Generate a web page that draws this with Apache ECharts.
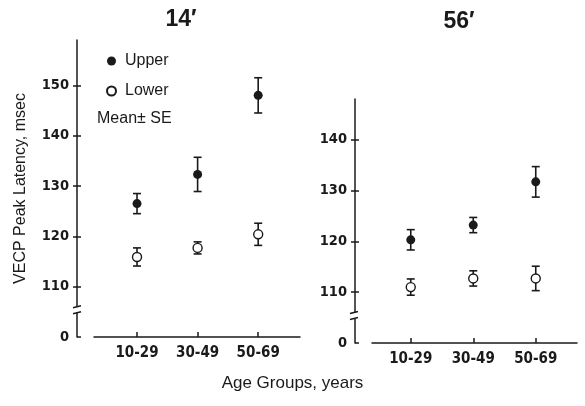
<!DOCTYPE html>
<html>
<head>
<meta charset="utf-8">
<script src="https://cdn.jsdelivr.net/npm/echarts@6/dist/echarts.min.js"></script>
<style>
  html, body { margin: 0; padding: 0; background: #fff; }
  #main { width: 585px; height: 406px; }
</style>
</head>
<body>
<div id="main"></div>
<script>
// age groups on the x axis
var categories = ['10-29', '30-49', '50-69'];
var panelTitles = ['14\u2032', '56\u2032'];

// 14' panel, mean and SE (msec)
var upper14 = [126.5, 132.3, 148.0];
var upper14SE = [2.0, 3.4, 3.5];
var lower14 = [115.9, 117.7, 120.4];
var lower14SE = [1.8, 1.2, 2.2];

// 56' panel
var upper56 = [120.3, 123.2, 131.7];
var upper56SE = [2.0, 1.5, 3.0];
var lower56 = [111.0, 112.7, 112.7];
var lower56SE = [1.6, 1.5, 2.4];

// y tick values; 100 sits below the axis break and is labelled "0"
var yTicks14 = [100, 110, 120, 130, 140, 150];
var yTicks56 = [100, 110, 120, 130, 140];

var ink = '#1a1a1a';
var tickFont = '"Liberation Sans Narrow", "DejaVu Sans Condensed", sans-serif';
var textFont = '"Liberation Sans", Arial, sans-serif';

function points(vals) {
  return vals.map(function (v, i) { return [i, v]; });
}
function bars(vals, se) {
  return vals.map(function (v, i) { return [i, v - se[i], v + se[i]]; });
}

function errorItem(params, api) {
  var lo = api.coord([api.value(0), api.value(1)]);
  var hi = api.coord([api.value(0), api.value(2)]);
  var w = 4;
  var st = { stroke: ink, lineWidth: 1.6 };
  return {
    type: 'group',
    children: [
      { type: 'line', shape: { x1: lo[0], y1: lo[1], x2: hi[0], y2: hi[1] }, style: st },
      { type: 'line', shape: { x1: lo[0] - w, y1: lo[1], x2: lo[0] + w, y2: lo[1] }, style: st },
      { type: 'line', shape: { x1: hi[0] - w, y1: hi[1], x2: hi[0] + w, y2: hi[1] }, style: st }
    ]
  };
}

function xAxisFor(grid, min, max) {
  return {
    type: 'value', gridIndex: grid, min: min, max: max,
    splitLine: { show: false },
    axisLine: { onZero: false, lineStyle: { color: ink, width: 1.5 } },
    axisTick: { inside: true, length: 5, customValues: [0, 1, 2], lineStyle: { color: ink, width: 1.5 } },
    axisLabel: {
      customValues: [0, 1, 2], margin: 9,
      formatter: function (v) { return categories[Math.round(v)]; },
      color: ink, fontFamily: tickFont, fontWeight: 'bold', fontSize: 15
    }
  };
}

function yAxesFor(grid, max, ticks, withName) {
  var outer = {
    type: 'value', gridIndex: grid, position: 'left', offset: 17, min: 100, max: max,
    splitLine: { show: false },
    axisLine: { show: true, onZero: false, lineStyle: { color: ink, width: 1.5 } },
    axisTick: { show: true, length: 4, customValues: ticks.slice(1), lineStyle: { color: ink, width: 1.5 } },
    axisLabel: {
      customValues: ticks, margin: 8,
      formatter: function (v) { return v === 100 ? '0' : String(v); },
      color: ink, fontFamily: tickFont, fontWeight: 'bold', fontSize: 14.5
    }
  };
  if (withName) {
    outer.name = 'VECP Peak Latency, msec';
    outer.nameLocation = 'middle';
    outer.nameGap = 48;
    outer.nameTextStyle = { color: ink, fontFamily: textFont, fontSize: 16 };
  }
  var inner = {
    type: 'value', gridIndex: grid, position: 'left', offset: 17, min: 100, max: max,
    splitLine: { show: false },
    axisLine: { show: false, onZero: false },
    axisLabel: { show: false },
    axisTick: { show: true, inside: true, length: 4, customValues: ticks, lineStyle: { color: ink, width: 1.5 } }
  };
  return [outer, inner];
}

function panelSeries(grid, up, upSE, low, lowSE) {
  var yi = grid * 2;
  return [
    { type: 'custom', name: 'errU' + grid, xAxisIndex: grid, yAxisIndex: yi, renderItem: errorItem,
      data: bars(up, upSE), z: 2 },
    { type: 'custom', name: 'errL' + grid, xAxisIndex: grid, yAxisIndex: yi, renderItem: errorItem,
      data: bars(low, lowSE), z: 2 },
    { type: 'scatter', name: 'Upper', xAxisIndex: grid, yAxisIndex: yi, symbolSize: 9, z: 3,
      itemStyle: { color: ink, opacity: 1 }, data: points(up) },
    { type: 'scatter', name: 'Lower', xAxisIndex: grid, yAxisIndex: yi, symbolSize: 9, z: 3,
      itemStyle: { color: '#fff', borderColor: ink, borderWidth: 1.4, opacity: 1 }, data: points(low) }
  ];
}

var chart = echarts.init(document.getElementById('main'));

var option = {
  backgroundColor: '#fff',
  animation: false,
  title: [
    { text: panelTitles[0], left: 176, top: 3, textAlign: 'center',
      textStyle: { color: ink, fontFamily: textFont, fontWeight: 'bold', fontSize: 23 } },
    { text: panelTitles[1], left: 454, top: 5, textAlign: 'center',
      textStyle: { color: ink, fontFamily: textFont, fontWeight: 'bold', fontSize: 23 } }
  ],
  legend: {
    data: ['Upper', 'Lower'], orient: 'vertical', left: 101, top: 48,
    icon: 'circle', itemWidth: 9, itemHeight: 9, itemGap: 14,
    textStyle: { color: ink, fontFamily: textFont, fontSize: 16, padding: [0, 0, 0, 4] },
    selectedMode: false
  },
  grid: [
    { left: 94, right: 285, top: 40, bottom: 69, outerBoundsMode: 'none' },
    { left: 372, right: 8, top: 99, bottom: 63, outerBoundsMode: 'none' }
  ],
  xAxis: [xAxisFor(0, -0.71, 2.69), xAxisFor(1, -0.62, 2.66)],
  yAxis: yAxesFor(0, 159, yTicks14, true).concat(yAxesFor(1, 148, yTicks56, false)),
  series: panelSeries(0, upper14, upper14SE, lower14, lower14SE)
    .concat(panelSeries(1, upper56, upper56SE, lower56, lower56SE)),
  graphic: [
    { type: 'text', left: 97, top: 111,
      style: { text: 'Mean\u00b1 SE', fill: ink, font: '16px ' + textFont } },
    { type: 'text', left: 'center', top: 375,
      style: { text: 'Age Groups, years', fill: ink, font: '17px ' + textFont } }
  ]
};

chart.setOption(option);

// axis break marks between 0 and 110, placed via the axis scale
function breakMarks(grid, offset) {
  var yi = grid * 2;
  var xMin = chart.getModel().getComponent('xAxis', grid).get('min');
  var ax = chart.convertToPixel({ xAxisIndex: grid }, xMin) - offset;
  var yTop = chart.convertToPixel({ yAxisIndex: yi }, 106);
  var yBot = chart.convertToPixel({ yAxisIndex: yi }, 104.8);
  var st = { stroke: ink, lineWidth: 1.5 };
  return [
    { type: 'rect', shape: { x: ax - 2, y: yTop, width: 4, height: yBot - yTop }, style: { fill: '#fff' }, z: 10 },
    { type: 'line', shape: { x1: ax - 4, y1: yTop + 1, x2: ax + 4, y2: yTop - 1 }, style: st, z: 11 },
    { type: 'line', shape: { x1: ax - 4, y1: yBot + 1, x2: ax + 4, y2: yBot - 1 }, style: st, z: 11 }
  ];
}

option.graphic = option.graphic.concat(breakMarks(0, 17), breakMarks(1, 18));
chart.setOption({ graphic: option.graphic });
</script>
</body>
</html>
